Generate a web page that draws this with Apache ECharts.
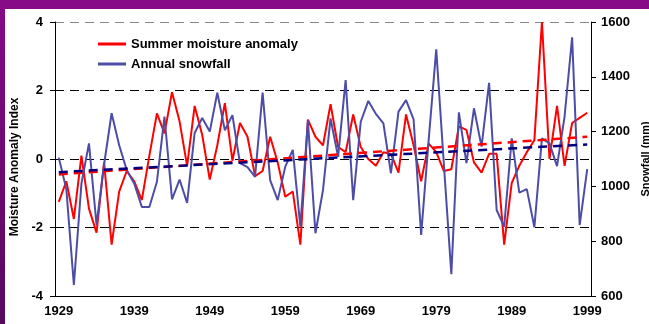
<!DOCTYPE html>
<html>
<head>
<meta charset="utf-8">
<title>Summer moisture anomaly and annual snowfall, 1929-1999</title>
<script src="https://cdn.jsdelivr.net/npm/echarts@6/dist/echarts.min.js"></script>
<style>
  html, body { margin: 0; padding: 0; background: #ffffff; }
  #chart { width: 649px; height: 324px; }
</style>
</head>
<body>
<div id="chart"></div>
<script>
// Years shown on the category axis
const years = [];
for (let y = 1929; y <= 1999; y++) years.push(String(y));

// Summer moisture anomaly index (left axis)
const moisture = [
  -1.25, -0.65, -1.75, 0.10, -1.45, -2.15, -0.10, -2.50, -0.95, -0.35,
  -0.65, -1.20, 0.10, 1.33, 0.75, 1.95, 1.10, -0.20, 1.55, 0.70,
  -0.60, 0.40, 1.63, -0.05, 1.05, 0.65, -0.50, -0.35, 0.65, -0.10,
  -1.10, -0.95, -2.50, 1.15, 0.65, 0.40, 1.60, 0.35, 0.20, 1.30,
  0.35, 0.00, -0.20, 0.20, 0.15, -0.40, 1.30, 0.40, -0.65, 0.45,
  0.20, -0.35, -0.30, 0.95, 0.85, -0.10, -0.40, 0.15, 0.15, -2.50,
  -0.70, -0.20, 0.20, 0.55, 4.00, 0.00, 1.55, -0.20, 1.05, 1.20,
  1.35
];

// Annual snowfall in mm (right axis)
const snowfall = [
  1105, 990, 640, 1010, 1157, 860, 1080, 1267, 1150, 1060,
  1010, 925, 925, 1017, 1255, 953, 1025, 940, 1195, 1250,
  1200, 1342, 1205, 1260, 1085, 1070, 1035, 1342, 1023, 950,
  1072, 1133, 853, 1240, 829, 987, 1248, 1108, 1388, 950,
  1236, 1312, 1265, 1230, 1048, 1273, 1315, 1245, 823, 1170,
  1500, 1085, 680, 1270, 1085, 1285, 1145, 1378, 914, 853,
  1175, 977, 990, 851, 1175, 1157, 1074, 1255, 1544, 859,
  1063
];

// Linear trend end points for each series
const trendYears = ['1929', '1999'];
const moistureTrend = [-0.45, 0.65];
const snowfallTrend = [1052, 1153];

// Tick labels
const moistureTicks = [-4, -2, 0, 2, 4];
const snowfallTicks = [600, 800, 1000, 1200, 1400, 1600];

const FONT = "'Liberation Sans', Arial, sans-serif";

const chart = echarts.init(document.getElementById('chart'), null, { renderer: 'canvas' });

chart.setOption({
  animation: false,
  backgroundColor: '#ffffff',
  textStyle: { fontFamily: FONT },
  graphic: [
    {
      type: 'rect', z: -10, silent: true,
      shape: { x: 0, y: 0, width: 649, height: 9 },
      style: { fill: '#870a87' }
    },
    {
      type: 'rect', z: -10, silent: true,
      shape: { x: 0, y: 0, width: 5, height: 324 },
      style: {
        fill: new echarts.graphic.LinearGradient(0, 0, 0, 1, [
          { offset: 0, color: '#870a87' },
          { offset: 1, color: '#560a5e' }
        ])
      }
    }
  ],
  grid: { left: 55, right: 58, top: 22, bottom: 28, containLabel: false, outerBoundsMode: 'none' },
  legend: {
    left: 93,
    top: 32,
    orient: 'vertical',
    icon: 'rect',
    itemWidth: 28,
    itemHeight: 3,
    itemGap: 6,
    data: ['Summer moisture anomaly', 'Annual snowfall'],
    textStyle: { fontFamily: FONT, fontSize: 13, fontWeight: 'bold', color: '#000', lineHeight: 14 }
  },
  xAxis: {
    type: 'category',
    data: years,
    boundaryGap: true,
    axisLine: { onZero: false, lineStyle: { color: '#000', width: 1 } },
    axisTick: { interval: 9, length: 5, lineStyle: { color: '#000' } },
    axisLabel: {
      interval: 9, margin: 9,
      fontFamily: FONT, fontSize: 13, fontWeight: 'bold', color: '#000'
    },
    splitLine: { show: false }
  },
  yAxis: [
    {
      type: 'value',
      min: moistureTicks[0],
      max: moistureTicks[moistureTicks.length - 1],
      interval: 2,
      name: 'Moisture Anomaly Index',
      nameLocation: 'middle',
      nameRotate: 90,
      nameGap: 33,
      nameTextStyle: { fontFamily: FONT, fontSize: 12, fontWeight: 'bold', color: '#000', padding: [0, 16, 0, 0] },
      axisLine: { show: true, lineStyle: { color: '#000', width: 1 } },
      axisTick: { show: true, length: 5, lineStyle: { color: '#000' } },
      axisLabel: { margin: 12, fontFamily: FONT, fontSize: 13, fontWeight: 'bold', color: '#000' },
      splitLine: {
        show: true,
        lineStyle: { color: ['#000', '#000', '#000', '#000', '#888'], type: [9, 6], width: 1 }
      }
    },
    {
      type: 'value',
      min: snowfallTicks[0],
      max: snowfallTicks[snowfallTicks.length - 1],
      interval: 200,
      position: 'right',
      name: 'Snowfall (mm)',
      nameLocation: 'middle',
      nameRotate: 90,
      nameGap: 46,
      nameTextStyle: { fontFamily: FONT, fontSize: 11, fontWeight: 'bold', color: '#000' },
      axisLine: { show: true, lineStyle: { color: '#000', width: 1 } },
      axisTick: { show: true, length: 5, lineStyle: { color: '#000' } },
      axisLabel: {
        margin: 10, fontFamily: FONT, fontSize: 13, fontWeight: 'bold', color: '#000',
        formatter: (v) => String(v)
      },
      splitLine: { show: false }
    }
  ],
  series: [
    {
      name: 'Summer moisture anomaly',
      type: 'line',
      yAxisIndex: 0,
      data: moisture,
      symbol: 'none',
      color: '#ff0000',
      lineStyle: { color: '#ff0000', width: 2 },
      z: 2
    },
    {
      name: 'Annual snowfall',
      type: 'line',
      yAxisIndex: 1,
      data: snowfall,
      symbol: 'none',
      color: '#4d4da8',
      lineStyle: { color: '#4d4da8', width: 2 },
      z: 3
    },
    {
      name: 'Moisture trend',
      type: 'line',
      yAxisIndex: 0,
      data: trendYears.map((y, i) => [y, moistureTrend[i]]),
      symbol: 'none',
      lineStyle: { color: '#ff0000', width: 2.5, type: [9, 6] },
      z: 4
    },
    {
      name: 'Snowfall trend',
      type: 'line',
      yAxisIndex: 1,
      data: trendYears.map((y, i) => [y, snowfallTrend[i]]),
      symbol: 'none',
      lineStyle: { color: '#000080', width: 2.5, type: [9, 6] },
      z: 5
    }
  ]
});
</script>
</body>
</html>
